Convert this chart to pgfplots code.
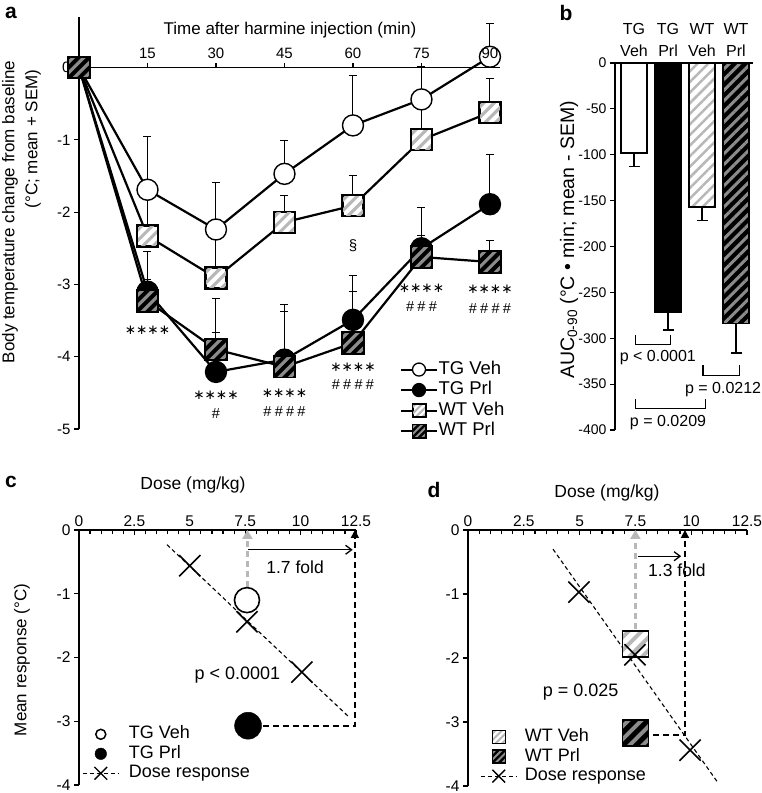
\documentclass[border=0pt]{standalone}
\usepackage{fontspec}
\setmainfont{Liberation Sans}
\newfontfamily\djv{DejaVu Sans}
\usepackage{pgfplots}
\usepackage{pgfplotstable}
\pgfplotsset{compat=1.18}
\usetikzlibrary{patterns.meta, arrows.meta}

\definecolor{lgray}{gray}{0.72}
\definecolor{mgray}{gray}{0.55}
\definecolor{agray}{gray}{0.72}

\pgfdeclareplotmark{wtveh}{%
  \fill[white] (-\pgfplotmarksize,-\pgfplotmarksize) rectangle (\pgfplotmarksize,\pgfplotmarksize);
  \begin{scope}
    \clip (-\pgfplotmarksize,-\pgfplotmarksize) rectangle (\pgfplotmarksize,\pgfplotmarksize);
    \foreach \c in {-1.5,-0.5,0.5,1.5}{
      \draw[lgray, line width=0.3*\pgfplotmarksize] (-1.2*\pgfplotmarksize, -1.2*\pgfplotmarksize+\c*\pgfplotmarksize) -- (1.2*\pgfplotmarksize, 1.2*\pgfplotmarksize+\c*\pgfplotmarksize);
    }
  \end{scope}
  \draw[black, line width=1.3pt] (-\pgfplotmarksize,-\pgfplotmarksize) rectangle (\pgfplotmarksize,\pgfplotmarksize);
}
\pgfdeclareplotmark{wtprl}{%
  \fill[black] (-\pgfplotmarksize,-\pgfplotmarksize) rectangle (\pgfplotmarksize,\pgfplotmarksize);
  \begin{scope}
    \clip (-\pgfplotmarksize,-\pgfplotmarksize) rectangle (\pgfplotmarksize,\pgfplotmarksize);
    \foreach \c in {-1.5,-0.5,0.5,1.5}{
      \draw[mgray, line width=0.3*\pgfplotmarksize] (-1.2*\pgfplotmarksize, -1.2*\pgfplotmarksize+\c*\pgfplotmarksize) -- (1.2*\pgfplotmarksize, 1.2*\pgfplotmarksize+\c*\pgfplotmarksize);
    }
  \end{scope}
  \draw[black, line width=1.3pt] (-\pgfplotmarksize,-\pgfplotmarksize) rectangle (\pgfplotmarksize,\pgfplotmarksize);
}

\pgfplotstableread{
t tgveh tgvehe wtveh wtvehe tgprl tgprle wtprl wtprle
0 0 0 0 0 0 0 0 0
15 -1.69 0.74 -2.33 0.50 -3.10 0.55 -3.23 0.30
30 -2.24 0.65 -2.91 0.60 -4.21 1.01 -3.90 0.24
45 -1.47 0.46 -2.14 0.37 -4.04 0.76 -4.14 0.76
60 -0.80 0.69 -1.91 0.42 -3.49 0.61 -3.81 0.71
75 -0.44 0.46 -1.00 0.50 -2.50 0.57 -2.62 0.30
90 0.15 0.46 -0.62 0.47 -1.89 0.69 -2.69 0.30
}\dataA

\newcommand\fs[1]{\fontsize{#1}{#1}\selectfont}
\newcommand\stars{{\djv\fs{13.5}∗∗∗∗}}
\newcommand\hashes[1]{{\fs{14.5}#1}}
\def\hk{\kern3.3pt}

\pgfplotsset{
  every axis/.append style={
    scale only axis, clip=false,
    axis line style={line width=1.2pt, -},
    every tick/.style={black, line width=1.2pt},
    /pgf/number format/assume math mode=true,
    major tick length=5pt, minor tick length=4pt,
    hide obscured x ticks=false, hide obscured y ticks=false,
  },
  lineleg/.style={legend image code/.code={\draw[mark repeat=2,mark phase=2,##1] plot coordinates {(0pt,0pt) (18pt,0pt) (36pt,0pt)};}},
}

\begin{document}
\begin{tikzpicture}[x=1pt,y=1pt]
\useasboundingbox (0,0) rectangle (762,793);

% ---------------- panel a ----------------
\begin{axis}[at={(79pt,364pt)}, anchor=south west, width=421pt, height=412pt,
  xmin=0, xmax=92.2, ymin=-5, ymax=0.7,
  axis y line*=left, axis x line*=middle,
  xtick={15,30,45,60,75,90}, xticklabels={15,30,45,60,75,},
  ytick={-5,-4,-3,-2,-1,0},
  xticklabel style={anchor=south, yshift=5pt, font=\fs{15}},
  yticklabel style={font=\fs{15}},
  ytick align=outside, xtick align=inside,
  lineleg,
  legend style={at={(rel axis cs:0.762,0.166)}, anchor=north west, draw=none, fill=none, font=\fs{18.5}, row sep=3pt, inner sep=0pt, nodes={inner sep=0.5pt, text height=13pt, text depth=3.5pt}},
  legend cell align=left,
]
% error bars (behind)
\addplot[draw=none, forget plot, error bars/.cd, y dir=plus, y explicit, error bar style={draw=black, line width=1pt}, error mark options={rotate=90, draw=black, mark size=4pt, line width=1pt}] table[x=t, y=tgveh, y error=tgvehe]{\dataA};
\addplot[draw=none, forget plot, error bars/.cd, y dir=plus, y explicit, error bar style={draw=black, line width=1pt}, error mark options={rotate=90, draw=black, mark size=4pt, line width=1pt}] table[x=t, y=wtveh, y error=wtvehe]{\dataA};
\addplot[draw=none, forget plot, error bars/.cd, y dir=plus, y explicit, error bar style={draw=black, line width=1pt}, error mark options={rotate=90, draw=black, mark size=4pt, line width=1pt}] table[x=t, y=tgprl, y error=tgprle]{\dataA};
\addplot[draw=none, forget plot, error bars/.cd, y dir=plus, y explicit, error bar style={draw=black, line width=1pt}, error mark options={rotate=90, draw=black, mark size=4pt, line width=1pt}] table[x=t, y=wtprl, y error=wtprle]{\dataA};
% series
\addplot[forget plot, line width=2.2pt, mark=*, mark size=10.5pt, mark options={draw=black, fill=white, line width=1.4pt}] table[x=t, y=tgveh]{\dataA};
\addplot[forget plot, line width=2.2pt, mark=wtveh, mark size=10.5pt] table[x=t, y=wtveh]{\dataA};
\addplot[forget plot, line width=2.2pt, mark=*, mark size=10.5pt, mark options={draw=black, fill=black, line width=1.4pt}] table[x=t, y=tgprl]{\dataA};
\addplot[forget plot, line width=2.2pt, mark=wtprl, mark size=10.5pt] table[x=t, y=wtprl]{\dataA};
% legend
\addlegendimage{line width=2pt, mark=*, mark size=6.5pt, mark options={fill=white, line width=1.3pt}}
\addlegendentry{TG Veh}
\addlegendimage{line width=2pt, mark=*, mark size=6.5pt, mark options={fill=black, line width=1.3pt}}
\addlegendentry{TG Prl}
\addlegendimage{line width=2pt, mark=wtveh, mark size=6.5pt}
\addlegendentry{WT Veh}
\addlegendimage{line width=2pt, mark=wtprl, mark size=6.5pt}
\addlegendentry{WT Prl}
\coordinate (t90) at (axis cs:90,0);
% annotations
\node at (axis cs:15,-3.63) {\stars};
\node at (axis cs:30,-4.53) {\stars};
\node at (axis cs:30,-4.78) {\hashes{\#}};
\node at (axis cs:45,-4.50) {\stars};
\node at (axis cs:45,-4.76) {\hashes{\#\hk\#\hk\#\hk\#}};
\node at (axis cs:60,-4.14) {\stars};
\node at (axis cs:60,-4.39) {\hashes{\#\hk\#\hk\#\hk\#}};
\node at (axis cs:60,-2.47) {\fs{15}§};
\node at (axis cs:75,-3.05) {\stars};
\node at (axis cs:75,-3.31) {\hashes{\#\hk\#\hk\#}};
\node at (axis cs:90,-3.07) {\stars};
\node at (axis cs:90,-3.34) {\hashes{\#\hk\#\hk\#\hk\#}};
\node[font=\fs{17}] at (axis cs:46.2,0.52) {Time after harmine injection (min)};
\end{axis}
% tick label 90 drawn over the marker, as in the figure
\node[anchor=south, yshift=5pt, font=\fs{15}] at (t90) {90};
\node[rotate=90, font=\fs{17}] at (10,581) {Body temperature change from baseline};
\node[rotate=90, font=\fs{17}] at (33,654) {(°C; mean + SEM)};
\node[font=\bfseries\fs{21}] at (11,780) {a};

% ---------------- panel b ----------------
\begin{axis}[at={(615pt,363pt)}, anchor=south west, width=138pt, height=367pt,
  xmin=0.44, xmax=4.5, ymin=-400, ymax=0,
  axis y line*=left, axis x line*=top,
  xtick={1,2,3,4}, xticklabels={{TG\\Veh},{TG\\Prl},{WT\\Veh},{WT\\Prl}},
  xticklabel style={align=center, font=\fontsize{16}{22}\selectfont, yshift=3pt},
  x tick style={draw=none},
  ytick={-400,-350,...,0}, yticklabel style={font=\fs{14}},
  ytick align=outside,
]
\addplot[ybar, bar width=0.76, bar shift=0pt, fill=white, draw=black, line width=1.3pt,
  error bars/.cd, y dir=minus, y explicit, error bar style={line width=1.2pt, black}, error mark options={rotate=90, mark size=5.5pt, line width=1.2pt, black}]
  coordinates {(1,-98) -= (0,15)};
\addplot[ybar, bar width=0.76, bar shift=0pt, fill=black, draw=black, line width=1.3pt,
  error bars/.cd, y dir=minus, y explicit, error bar style={line width=1.2pt, black}, error mark options={rotate=90, mark size=5.5pt, line width=1.2pt, black}]
  coordinates {(2,-272) -= (0,19)};
\addplot[ybar, bar width=0.76, bar shift=0pt, fill=white, draw=black, line width=1.3pt,
  postaction={pattern={Lines[angle=45,distance=7.5pt,line width=2.5pt]}, pattern color=lgray},
  error bars/.cd, y dir=minus, y explicit, error bar style={line width=1.2pt, black}, error mark options={rotate=90, mark size=5.5pt, line width=1.2pt, black}]
  coordinates {(3,-157) -= (0,15)};
\addplot[ybar, bar width=0.76, bar shift=0pt, fill=black, draw=black, line width=1.3pt,
  postaction={pattern={Lines[angle=45,distance=7.5pt,line width=3pt]}, pattern color=mgray},
  error bars/.cd, y dir=minus, y explicit, error bar style={line width=1.2pt, black}, error mark options={rotate=90, mark size=5.5pt, line width=1.2pt, black}]
  coordinates {(4,-284) -= (0,32)};
\draw[line width=1.1pt] (axis cs:1.03,-296.5) -- (axis cs:1.03,-307) -- (axis cs:2.06,-307) -- (axis cs:2.06,-296.5);
\node[font=\fs{16}] at (axis cs:1.7,-321) {p < 0.0001};
\draw[line width=1.1pt] (axis cs:3.03,-329) -- (axis cs:3.03,-341) -- (axis cs:4.09,-341) -- (axis cs:4.09,-329);
\node[font=\fs{16}] at (axis cs:3.62,-356) {p = 0.0212};
\draw[line width=1.1pt] (axis cs:1.03,-366) -- (axis cs:1.03,-377) -- (axis cs:3.09,-377) -- (axis cs:3.09,-366);
\node[font=\fs{16}] at (axis cs:2.0,-392) {p = 0.0209};
\end{axis}
\node[rotate=90, font=\fs{19.5}] at (569,553) {AUC\textsubscript{0-90} (°C • min; mean - SEM)};
\node[font=\bfseries\fs{21}] at (566,780) {b};

% ---------------- panel c ----------------
\begin{axis}[at={(79pt,8pt)}, anchor=south west, width=277pt, height=255pt,
  xmin=0, xmax=12.5, ymin=-4, ymax=0,
  axis y line*=left, axis x line*=top,
  xtick={0,2.5,5,7.5,10,12.5}, minor x tick num=4,
  ytick={-4,-3,-2,-1,0},
  xtick align=inside, ytick align=outside,
  tick label style={font=\fs{15.5}},
  lineleg,
  legend style={at={(rel axis cs:0.011,0.231)}, anchor=north west, draw=none, fill=none, font=\fs{18}, row sep=3.5pt, inner sep=0pt, nodes={inner sep=0.5pt, text height=12pt, text depth=3pt}, /tikz/every odd column/.append style={column sep=9pt}},
  legend cell align=left,
]
\addplot[forget plot, black, line width=1.1pt, dash pattern=on 4pt off 3pt] coordinates {(3.97,-0.23) (12.14,-2.92)};
\draw[agray, line width=2.6pt, dash pattern=on 6pt off 4pt, -{Triangle[width=10pt,length=9pt]}] (axis cs:7.6,-0.89) -- (axis cs:7.6,0);
\draw[black, line width=1.6pt, dash pattern=on 6pt off 4pt, -{Triangle[width=8pt,length=8pt]}] (axis cs:8.3,-3.07) -- (axis cs:12.45,-3.07) -- (axis cs:12.45,0);
\draw[black, line width=1.3pt, -{Straight Barb[length=6pt,width=9pt]}] (axis cs:7.63,-0.31) -- (axis cs:12.35,-0.31);
\addplot[forget plot, only marks, mark=x, mark size=15pt, mark options={line width=1.6pt, black}] coordinates {(5,-0.56) (7.58,-1.44) (10.06,-2.23)};
\addplot[forget plot, only marks, mark=*, mark size=12.5pt, mark options={draw=black, fill=white, line width=1.6pt}] coordinates {(7.58,-1.10)};
\addplot[forget plot, only marks, mark=*, mark size=13.5pt, mark options={draw=black, fill=black}] coordinates {(7.63,-3.07)};
\node[font=\fs{17.5}] at (axis cs:9.75,-0.58) {1.7 fold};
\node[font=\fs{18}] at (axis cs:7.15,-2.27) {p < 0.0001};
\addlegendimage{legend image code/.code={\draw[black, fill=white, line width=1.5pt] (18pt,0pt) circle (5pt);}}
\addlegendentry{TG Veh}
\addlegendimage{legend image code/.code={\fill[black] (18pt,0pt) circle (5.8pt);}}
\addlegendentry{TG Prl}
\addlegendimage{black, line width=1.1pt, dash pattern=on 4pt off 3pt, mark=x, mark size=9pt, mark options={solid, line width=1.4pt}}
\addlegendentry{Dose response}
\end{axis}
\node[font=\fs{17.5}] at (193,308) {Dose (mg/kg)};
\node[rotate=90, font=\fs{17}] at (22,133) {Mean response (°C)};
\node[font=\bfseries\fs{21}] at (11,311) {c};

% ---------------- panel d ----------------
\begin{axis}[at={(468pt,7pt)}, anchor=south west, width=279pt, height=256pt,
  xmin=0, xmax=12.5, ymin=-4, ymax=0,
  axis y line*=left, axis x line*=top,
  xtick={0,2.5,5,7.5,10,12.5}, minor x tick num=4,
  ytick={-4,-3,-2,-1,0},
  xtick align=inside, ytick align=outside,
  tick label style={font=\fs{15.5}},
  lineleg,
  legend style={at={(rel axis cs:0.043,0.223)}, anchor=north west, draw=none, fill=none, font=\fs{18}, row sep=3.5pt, inner sep=0pt, nodes={inner sep=0.5pt, text height=12pt, text depth=3pt}, /tikz/every odd column/.append style={column sep=7pt}},
  legend cell align=left,
]
\addplot[forget plot, black, line width=1.1pt, dash pattern=on 4pt off 3pt] coordinates {(3.81,-0.30) (11.2,-3.95)};
\draw[agray, line width=2.6pt, dash pattern=on 6pt off 4pt, -{Triangle[width=10pt,length=9pt]}] (axis cs:7.5,-1.55) -- (axis cs:7.5,0);
\draw[black, line width=1.6pt, dash pattern=on 6pt off 4pt, -{Triangle[width=8pt,length=8pt]}] (axis cs:8.29,-3.2) -- (axis cs:9.72,-3.2) -- (axis cs:9.72,0);
\draw[black, line width=1.3pt, -{Straight Barb[length=6pt,width=9pt]}] (axis cs:7.62,-0.41) -- (axis cs:9.55,-0.41);
\addplot[forget plot, only marks, mark=wtveh, mark size=13pt] coordinates {(7.5,-1.78)};
\addplot[forget plot, only marks, mark=wtprl, mark size=13pt] coordinates {(7.5,-3.17)};
\addplot[forget plot, only marks, mark=x, mark size=15pt, mark options={line width=1.6pt, black}] coordinates {(4.97,-0.97) (7.48,-1.95) (9.95,-3.44)};
\node[font=\fs{17.5}] at (axis cs:9.36,-0.63) {1.3 fold};
\node[font=\fs{18}] at (axis cs:5.05,-2.53) {p = 0.025};
\addlegendimage{legend image code/.code={\draw[mark=wtveh, mark size=6.5pt] plot coordinates {(18pt,0pt)};}}
\addlegendentry{WT Veh}
\addlegendimage{legend image code/.code={\draw[mark=wtprl, mark size=6.5pt] plot coordinates {(18pt,0pt)};}}
\addlegendentry{WT Prl}
\addlegendimage{black, line width=1.1pt, dash pattern=on 4pt off 3pt, mark=x, mark size=9pt, mark options={solid, line width=1.4pt}}
\addlegendentry{Dose response}
\end{axis}
\node[font=\fs{17.5}] at (607,300) {Dose (mg/kg)};
\node[font=\bfseries\fs{21}] at (434,303) {d};
\end{tikzpicture}
\end{document}
